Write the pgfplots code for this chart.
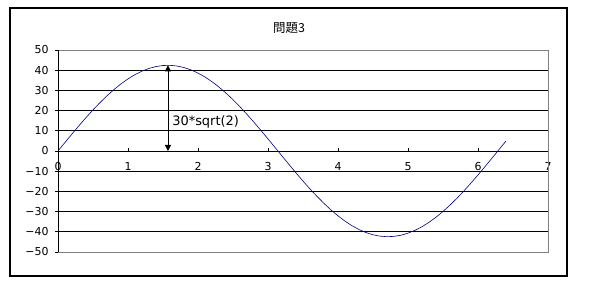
\documentclass[border=0pt]{standalone}
\usepackage{pgfplots}
\pgfplotsset{compat=1.18}
\usepackage{fontspec}
\setmainfont{DejaVu Sans}
\newfontfamily\cjk{Noto Sans CJK JP}
\usetikzlibrary{arrows.meta}
\definecolor{navy}{HTML}{000080}
\begin{document}
\begin{tikzpicture}
\fill[white] (0,0) rectangle (597bp,298bp);
\draw[black, line width=1.1bp] (10bp,22bp) rectangle (567bp,290bp);
\node[font=\cjk\fontsize{12.5}{14}\selectfont] at (289bp,270bp) {問題3};
\begin{axis}[
  at={(58bp,46bp)}, anchor=south west,
  scale only axis, width=490bp, height=202bp,
  xmin=0, xmax=7, ymin=-50, ymax=50,
  axis x line=middle, axis y line=left,
  hide obscured x ticks=false,
  axis line style={-, black, line width=0.8bp},
  xtick={0,1,...,7}, ytick={-50,-40,...,50},
  yticklabels={−50,−40,−30,−20,−10,0,10,20,30,40,50},
  xtick align=inside, ytick align=outside,
  major tick length=3bp,
  tick style={black, line width=0.6bp},
  ymajorgrids, grid style={black, line width=0.8bp},
  tick label style={font=\fontsize{11}{13}\selectfont},
  /pgf/number format/assume math mode=true,
  xticklabel style={yshift=-8bp},
  yticklabel style={xshift=-3bp},
  clip=false,
]
\addplot[navy, line width=0.6bp] coordinates {
(0,0) (0.1,4.236) (0.2,8.429) (0.3,12.538) (0.4,16.522) (0.5,20.340)
(0.6,23.956) (0.7,27.332) (0.8,30.435) (0.9,33.234) (1.0,35.700)
(1.1,37.811) (1.2,39.543) (1.3,40.880) (1.4,41.809) (1.5,42.320)
(1.6,42.408) (1.7,42.073) (1.8,41.317) (1.9,40.148) (2.0,38.578)
(2.1,36.623) (2.2,34.302) (2.3,31.638) (2.4,28.657) (2.5,25.391)
(2.6,21.871) (2.7,18.132) (2.8,14.212) (2.9,10.151) (3.0,5.987)
(3.1,1.764) (3.2,-2.477) (3.3,-6.693) (3.4,-10.842) (3.5,-14.882)
(3.6,-18.775) (3.7,-22.479) (3.8,-25.959) (3.9,-29.180) (4.0,-32.108)
(4.1,-34.717) (4.2,-36.978) (4.3,-38.870) (4.4,-40.373) (4.5,-41.473)
(4.6,-42.159) (4.7,-42.423) (4.8,-42.263) (4.9,-41.682) (5.0,-40.684)
(5.1,-39.279) (5.2,-37.482) (5.3,-35.310) (5.4,-32.785) (5.5,-29.933)
(5.6,-26.782) (5.7,-23.364) (5.8,-19.711) (5.9,-15.862) (6.0,-11.855)
(6.1,-7.728) (6.2,-3.525) (6.3,0.713) (6.4,4.945)
};
\addplot[black, line width=0.8bp, {Triangle[length=6bp,width=6bp]}-{Triangle[length=6bp,width=6bp]}] coordinates {(1.5708,0) (1.5708,42.43)};
\node[anchor=west, font=\fontsize{13}{15}\selectfont, inner sep=0pt] at (axis cs:1.63,14.5) {30*sqrt(2)};
\draw[gray, line width=0.9bp] (rel axis cs:0,0) -- (rel axis cs:1,0) -- (rel axis cs:1,1) -- (rel axis cs:0,1);
\draw[black, line width=0.8bp] (rel axis cs:0,0) -- (rel axis cs:0,1);
\end{axis}
\end{tikzpicture}
\end{document}
